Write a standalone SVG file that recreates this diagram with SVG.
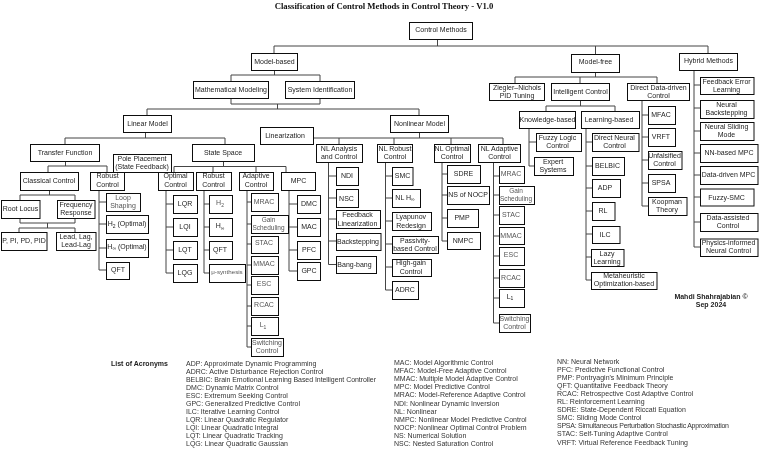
<svg xmlns="http://www.w3.org/2000/svg" width="768" height="457" viewBox="0 0 768 457">
<style>
text{font-family:"Liberation Sans",Arial,sans-serif;font-size:7px;fill:#222}
.n rect{fill:#fff;stroke:#111;stroke-width:1}
.n text{text-anchor:middle}
.s{font-size:5px}
.g text{fill:#555}
#connectors path{fill:none;stroke:#444;stroke-width:1}
.b{font-weight:bold}
.l text{fill:#333}
</style>
<defs><filter id="soft" x="0" y="0" width="100%" height="100%" filterUnits="objectBoundingBox"><feGaussianBlur stdDeviation="0.3"/></filter></defs>
<rect width="768" height="457" fill="#fff"/>
<g filter="url(#soft)">
<rect width="768" height="457" fill="#fff"/>
<text x="384" y="8.500" text-anchor="middle" style="font-family:'Liberation Serif',serif;font-size:8.700px;font-weight:bold;fill:#111">Classification of Control Methods in Control Theory - V1.0</text>
<g id="connectors">
<path d="M437.500 39V46M274 46H708M274 46V53M595.500 46V54M708 46V53"/>
<path d="M274.500 70V75M231 75H320M231 75V81M320 75V81M231 98V104H320V98M277.500 104V109M147 109H419M147 109V115M419 109V115"/>
<path d="M145.500 132V138M65 138H225M65 138V144M225 138V144M65.500 161V166M48 166H107M48 166V172M107 166V172M49.500 190V195M20 195H75M20 195V200M75 195V200M20 218V223H75V218M47.500 223V228M19 228H75M19 228V232M75 228V232"/>
<path d="M99 190V270M99 202H106M99 224H106M99 248H106M99 270H106"/>
<path d="M223.500 161V166.500M174 166.500H286M174 166.500V172M213 166.500V172M256 166.500V172M286 166.500V172"/>
<path d="M166 190V273M166 204H173M166 227H173M166 250H173M166 273H173M204 190V273M204 204H209M204 227H209M204 250H209M204 273H209"/>
<path d="M247 190V347M247 202H251M247 224H251M247 244H251M247 265H251M247 285H251M247 306H251M247 326H251M247 347H251M289 190V271M289 204H297M289 227H297M289 250H297M289 271H297"/>
<path d="M419.500 132V138M313 138H503M339 138V144M394 138V144M451 138V144M503 138V144"/>
<path d="M328.500 162V264.500H336M328 176H336M328 198H336M328 219H336M328 241H336"/>
<path d="M385.500 162V290H392M385 176H392M385 198H392M385 221H392M385 244H392M385 267H392"/>
<path d="M442 162V241H447M442 174H447M442 195H447M442 218H447"/>
<path d="M493.500 162V323H499M493 176H499M493 195H499M493 215H499M493 236H499M493 256H499M493 278H499M493 298H499"/>
<path d="M595.500 72V77M515 77H657M515 77V83M580 77V83M657 77V83M580.500 100V106M546 106H615M546 106V111M615 106V111"/>
<path d="M529 128V166H534M529 142H536M586 128V280H591M586 142H592M586 166H592M586 188H592M586 211H592M586 234H592M586 257H591"/>
<path d="M642 100V206H648M642 115H648M642 137H648M642 160H648M642 183H648"/>
<path d="M694 70V247H700M694 85H700M694 108H700M694 131H700M694 153H700M694 175H700M694 197H700M694 222H700"/>
</g>
<g id="n-control-methods" class="n"><rect x="409.500" y="22.500" width="63" height="17"/><text x="441" y="32">Control Methods</text></g>
<g id="n-model-based" class="n"><rect x="251.500" y="53.500" width="46" height="17"/><text x="274.500" y="63.500">Model-based</text></g>
<g id="n-model-free" class="n"><rect x="571.500" y="54.500" width="48" height="18"/><text x="595.500" y="64">Model-free</text></g>
<g id="n-hybrid" class="n"><rect x="679.500" y="53.500" width="58" height="17"/><text x="708.500" y="63">Hybrid Methods</text></g>
<g id="n-math" class="n"><rect x="193.500" y="81.500" width="75" height="17"/><text x="231" y="91.500">Mathematical Modeling</text></g>
<g id="n-sysid" class="n"><rect x="285.500" y="81.500" width="69" height="17"/><text x="320" y="91.500">System Identification</text></g>
<g id="n-ziegler" class="n"><rect x="489.500" y="83.500" width="55" height="17"/><text x="517" y="90">Ziegler–Nichols</text><text x="517" y="98">PID Tuning</text></g>
<g id="n-intelligent" class="n"><rect x="551.500" y="83.500" width="58" height="17"/><text x="580.500" y="93.500">Intelligent Control</text></g>
<g id="n-direct-data" class="n"><rect x="627.500" y="83.500" width="62" height="17"/><text x="658.500" y="89.500">Direct Data-driven</text><text x="658.500" y="97.500">Control</text></g>
<g id="n-linear" class="n"><rect x="123.500" y="115.500" width="48" height="17"/><text x="147.500" y="125.500">Linear Model</text></g>
<g id="n-nonlinear" class="n"><rect x="390.500" y="115.500" width="58" height="17"/><text x="419.500" y="125.500">Nonlinear Model</text></g>
<g id="n-linearization" class="n"><rect x="260.500" y="127.500" width="53" height="17"/><text x="285" y="137.500">Linearization</text></g>
<g id="n-knowledge" class="n"><rect x="519.500" y="111.500" width="56" height="17"/><text x="547.500" y="121.500">Knowledge-based</text></g>
<g id="n-learning" class="n"><rect x="581.500" y="111.500" width="58" height="17"/><text x="609" y="121.500">Learning-based</text></g>
<g id="n-transfer" class="n"><rect x="30.500" y="144.500" width="69" height="17"/><text x="65" y="155">Transfer Function</text></g>
<g id="n-state-space" class="n"><rect x="192.500" y="144.500" width="62" height="17"/><text x="223" y="155">State Space</text></g>
<g id="n-pole" class="n"><rect x="113.500" y="154.500" width="58" height="18"/><text x="142" y="161">Pole Placement</text><text x="142" y="169">(State Feedback)</text></g>
<g id="n-classical" class="n"><rect x="20.500" y="172.500" width="58" height="18"/><text x="49" y="183">Classical Control</text></g>
<g id="n-robust1" class="n"><rect x="90.500" y="172.500" width="34" height="18"/><text x="107.500" y="178">Robust</text><text x="107.500" y="187">Control</text></g>
<g id="n-optimal" class="n"><rect x="158.500" y="172.500" width="35" height="18"/><text x="175.500" y="178">Optimal</text><text x="175.500" y="187">Control</text></g>
<g id="n-robust2" class="n"><rect x="196.500" y="172.500" width="35" height="18"/><text x="213.500" y="178">Robust</text><text x="213.500" y="187">Control</text></g>
<g id="n-adaptive" class="n"><rect x="239.500" y="172.500" width="34" height="18"/><text x="256" y="178">Adaptive</text><text x="256" y="187">Control</text></g>
<g id="n-mpc" class="n"><rect x="281.500" y="172.500" width="34" height="18"/><text x="298.500" y="183">MPC</text></g>
<g id="n-root" class="n"><rect x="1.500" y="200.500" width="38.500" height="18"/><text x="20.500" y="211">Root Locus</text></g>
<g id="n-freq" class="n"><rect x="57.500" y="200.500" width="37.500" height="18"/><text x="76" y="207">Frequency</text><text x="76" y="215">Response</text></g>
<g id="n-ppi" class="n"><rect x="1.500" y="232.500" width="45.500" height="18"/><text x="24" y="243">P, PI, PD, PID</text></g>
<g id="n-lead" class="n"><rect x="56.500" y="232.500" width="39.500" height="18"/><text x="76" y="238.500">Lead, Lag,</text><text x="76" y="246.500">Lead-Lag</text></g>
<g id="n-loop" class="n g"><rect x="106.500" y="193.500" width="34" height="18"/><text x="123" y="200">Loop</text><text x="123" y="208">Shaping</text></g>
<g id="n-h2opt" class="n"><rect x="106.500" y="215.500" width="42" height="18"/><text x="127" y="226">H<tspan class="s" dy="1.500">2</tspan><tspan dy="-1.500"> (Optimal)</tspan></text></g>
<g id="n-hinfopt" class="n"><rect x="106.500" y="239.500" width="42" height="18"/><text x="127" y="248.500">H<tspan class="s" dy="1.500">∞</tspan><tspan dy="-1.500"> (Optimal)</tspan></text></g>
<g id="n-qft1" class="n"><rect x="106.500" y="262.500" width="23" height="17"/><text x="118" y="272">QFT</text></g>
<g id="n-lqr" class="n"><rect x="173.500" y="195.500" width="24" height="18"/><text x="185" y="206">LQR</text></g>
<g id="n-lqi" class="n"><rect x="173.500" y="218.500" width="24" height="18"/><text x="185" y="229">LQI</text></g>
<g id="n-lqt" class="n"><rect x="173.500" y="241.500" width="24" height="18"/><text x="185" y="252">LQT</text></g>
<g id="n-lqg" class="n"><rect x="173.500" y="264.500" width="24" height="18"/><text x="185" y="275">LQG</text></g>
<g id="n-h2" class="n g"><rect x="209.500" y="195.500" width="23" height="18"/><text x="220" y="205">H<tspan class="s" dy="1.500">2</tspan></text></g>
<g id="n-hinf" class="n"><rect x="209.500" y="218.500" width="23" height="18"/><text x="220" y="228">H<tspan class="s" dy="1.500">∞</tspan></text></g>
<g id="n-qft2" class="n"><rect x="209.500" y="241.500" width="23" height="18"/><text x="220" y="251.500">QFT</text></g>
<g id="n-mu" class="n g"><rect x="209.500" y="264.500" width="36" height="18"/><text x="227" y="274" style="font-size:6.200px">μ-synthesis</text></g>
<g id="n-mrac1" class="n g"><rect x="251.500" y="193.500" width="27" height="18"/><text x="264" y="204">MRAC</text></g>
<g id="n-gain1" class="n g"><rect x="251.500" y="215.500" width="37" height="18"/><text x="268.500" y="222" style="font-size:6.500px">Gain</text><text x="268.500" y="229.500" style="font-size:6.500px">Scheduling</text></g>
<g id="n-stac1" class="n g"><rect x="251.500" y="236.500" width="27" height="17"/><text x="264" y="245">STAC</text></g>
<g id="n-mmac1" class="n g"><rect x="251.500" y="256.500" width="27" height="18"/><text x="264" y="265.500">MMAC</text></g>
<g id="n-esc1" class="n g"><rect x="251.500" y="276.500" width="27" height="18"/><text x="264" y="286">ESC</text></g>
<g id="n-rcac1" class="n g"><rect x="251.500" y="297.500" width="27" height="18"/><text x="264" y="307">RCAC</text></g>
<g id="n-l1a" class="n g"><rect x="251.500" y="317.500" width="27" height="18"/><text x="263" y="327">L<tspan class="s" dy="1.500">1</tspan></text></g>
<g id="n-switch1" class="n g"><rect x="251.500" y="338.500" width="32" height="18"/><text x="267" y="345">Switching</text><text x="267" y="353">Control</text></g>
<g id="n-dmc" class="n"><rect x="297.500" y="195.500" width="23" height="18"/><text x="309" y="206">DMC</text></g>
<g id="n-mac" class="n"><rect x="297.500" y="218.500" width="23" height="18"/><text x="309" y="229">MAC</text></g>
<g id="n-pfc" class="n"><rect x="297.500" y="241.500" width="23" height="18"/><text x="309" y="252">PFC</text></g>
<g id="n-gpc" class="n"><rect x="297.500" y="262.500" width="23" height="18"/><text x="309" y="273">GPC</text></g>
<g id="n-nl-analysis" class="n"><rect x="316.500" y="144.500" width="46" height="18"/><text x="339" y="151">NL Analysis</text><text x="339" y="159">and Control</text></g>
<g id="n-nl-robust" class="n"><rect x="377.500" y="144.500" width="35" height="18"/><text x="395" y="151">NL Robust</text><text x="395" y="159">Control</text></g>
<g id="n-nl-optimal" class="n"><rect x="434.500" y="144.500" width="36" height="18"/><text x="452" y="151">NL Optimal</text><text x="452" y="159">Control</text></g>
<g id="n-nl-adaptive" class="n"><rect x="478.500" y="144.500" width="42" height="18"/><text x="499.500" y="151">NL Adaptive</text><text x="499.500" y="159">Control</text></g>
<g id="n-ndi" class="n"><rect x="336.500" y="167.500" width="22" height="18"/><text x="347" y="178">NDI</text></g>
<g id="n-nsc" class="n"><rect x="336.500" y="189.500" width="22" height="18"/><text x="346.500" y="200.500">NSC</text></g>
<g id="n-fblin" class="n"><rect x="336.500" y="210.500" width="44" height="18"/><text x="357.500" y="217">Feedback</text><text x="357.500" y="225.500">Linearization</text></g>
<g id="n-backstep" class="n"><rect x="336.500" y="233.500" width="44.500" height="17"/><text x="358" y="243.500">Backstepping</text></g>
<g id="n-bang" class="n"><rect x="336.500" y="256.500" width="40" height="17"/><text x="354.500" y="267">Bang-bang</text></g>
<g id="n-smc" class="n"><rect x="392.500" y="167.500" width="20.500" height="18"/><text x="402.500" y="178">SMC</text></g>
<g id="n-nlhinf" class="n"><rect x="392.500" y="189.500" width="28" height="18"/><text x="405" y="199.500">NL H<tspan class="s" dy="1.500">∞</tspan></text></g>
<g id="n-lyap" class="n"><rect x="392.500" y="212.500" width="39" height="18"/><text x="411" y="219">Lyapunov</text><text x="411" y="227.500">Redesign</text></g>
<g id="n-pass" class="n"><rect x="392.500" y="236.500" width="46" height="17"/><text x="415" y="242.500">Passivity-</text><text x="415" y="250.500">based Control</text></g>
<g id="n-high" class="n"><rect x="392.500" y="259.500" width="39" height="17"/><text x="411" y="264.500">High-gain</text><text x="411" y="273.500">Control</text></g>
<g id="n-adrc" class="n"><rect x="392.500" y="281.500" width="26" height="18"/><text x="405" y="292">ADRC</text></g>
<g id="n-sdre" class="n"><rect x="447.500" y="165.500" width="33" height="18"/><text x="463.500" y="176">SDRE</text></g>
<g id="n-nsnocp" class="n"><rect x="447.500" y="186.500" width="42" height="18"/><text x="468" y="197">NS of NOCP</text></g>
<g id="n-pmp" class="n"><rect x="447.500" y="209.500" width="31" height="18"/><text x="462" y="220">PMP</text></g>
<g id="n-nmpc" class="n"><rect x="447.500" y="232.500" width="33" height="17"/><text x="463" y="242.500">NMPC</text></g>
<g id="n-mrac2" class="n g"><rect x="499.500" y="166.500" width="25" height="17"/><text x="511" y="176">MRAC</text></g>
<g id="n-gain2" class="n g"><rect x="499.500" y="186.500" width="35" height="18"/><text x="516" y="193" style="font-size:6.500px">Gain</text><text x="516" y="201" style="font-size:6.500px">Scheduling</text></g>
<g id="n-stac2" class="n g"><rect x="499.500" y="206.500" width="25" height="18"/><text x="511" y="217">STAC</text></g>
<g id="n-mmac2" class="n g"><rect x="499.500" y="227.500" width="25" height="17"/><text x="511" y="237.500">MMAC</text></g>
<g id="n-esc2" class="n g"><rect x="499.500" y="247.500" width="25" height="18"/><text x="511" y="257">ESC</text></g>
<g id="n-rcac2" class="n g"><rect x="499.500" y="269.500" width="25" height="18"/><text x="511" y="279.500">RCAC</text></g>
<g id="n-l1b" class="n"><rect x="499.500" y="289.500" width="25" height="18"/><text x="510" y="298.500">L<tspan class="s" dy="1.500">1</tspan></text></g>
<g id="n-switch2" class="n g"><rect x="499.500" y="314.500" width="31" height="18"/><text x="514.500" y="321">Switching</text><text x="514.500" y="329">Control</text></g>
<g id="n-fuzzy" class="n"><rect x="536.500" y="133.500" width="45" height="18"/><text x="557.500" y="139.500">Fuzzy Logic</text><text x="557.500" y="147.500">Control</text></g>
<g id="n-expert" class="n"><rect x="534.500" y="157.500" width="39" height="18"/><text x="553" y="163.500">Expert</text><text x="553" y="171.500">Systems</text></g>
<g id="n-direct-neural" class="n"><rect x="592.500" y="133.500" width="46.500" height="18"/><text x="614.500" y="139.500">Direct Neural</text><text x="614.500" y="147.500">Control</text></g>
<g id="n-belbic" class="n"><rect x="592.500" y="157.500" width="32" height="18"/><text x="607.500" y="168">BELBIC</text></g>
<g id="n-adp" class="n"><rect x="592.500" y="179.500" width="28" height="18"/><text x="605" y="190">ADP</text></g>
<g id="n-rl" class="n"><rect x="592.500" y="202.500" width="22.500" height="18"/><text x="603" y="213">RL</text></g>
<g id="n-ilc" class="n"><rect x="592.500" y="226.500" width="27.500" height="17"/><text x="605" y="236.500">ILC</text></g>
<g id="n-lazy" class="n"><rect x="591.500" y="249.500" width="32.500" height="17"/><text x="607" y="255.500">Lazy</text><text x="607" y="263.500">Learning</text></g>
<g id="n-meta" class="n"><rect x="591.500" y="272.500" width="65.500" height="17"/><text x="624" y="277.500">Metaheuristic</text><text x="624" y="286">Optimization-based</text></g>
<g id="n-mfac" class="n"><rect x="648.500" y="106.500" width="27" height="18"/><text x="661" y="116.500">MFAC</text></g>
<g id="n-vrft" class="n"><rect x="648.500" y="128.500" width="27" height="18"/><text x="661" y="138.500">VRFT</text></g>
<g id="n-unfals" class="n"><rect x="648.500" y="151.500" width="33.500" height="18"/><text x="664.500" y="157.500">Unfalsified</text><text x="664.500" y="166">Control</text></g>
<g id="n-spsa" class="n"><rect x="648.500" y="174.500" width="27" height="18"/><text x="661" y="184.500">SPSA</text></g>
<g id="n-koop" class="n"><rect x="648.500" y="197.500" width="38.500" height="18"/><text x="667" y="204">Koopman</text><text x="667" y="212">Theory</text></g>
<g id="n-fel" class="n"><rect x="700.500" y="77.500" width="53.500" height="17"/><text x="726.500" y="83.500">Feedback Error</text><text x="726.500" y="91.500">Learning</text></g>
<g id="n-nb" class="n"><rect x="700.500" y="100.500" width="53.500" height="18"/><text x="726.500" y="106.500">Neural</text><text x="726.500" y="114.500">Backstepping</text></g>
<g id="n-nsm" class="n"><rect x="700.500" y="122.500" width="53.500" height="18"/><text x="726.500" y="128.500">Neural Sliding</text><text x="726.500" y="136.500">Mode</text></g>
<g id="n-nnmpc" class="n"><rect x="700.500" y="144.500" width="57.500" height="18"/><text x="729" y="155">NN-based MPC</text></g>
<g id="n-ddmpc" class="n"><rect x="700.500" y="166.500" width="57.500" height="18"/><text x="728.500" y="177">Data-driven MPC</text></g>
<g id="n-fsmc" class="n"><rect x="700.500" y="189" width="53.500" height="17"/><text x="726.500" y="199.500">Fuzzy-SMC</text></g>
<g id="n-dac" class="n"><rect x="700.500" y="213.500" width="57.500" height="18"/><text x="728" y="219.500">Data-assisted</text><text x="728" y="227.500">Control</text></g>
<g id="n-pinn" class="n"><rect x="700.500" y="239" width="57.500" height="17.500"/><text x="728.500" y="244.500">Physics-informed</text><text x="728.500" y="252.500">Neural Control</text></g>
<text x="711" y="298.500" text-anchor="middle" class="b">Mahdi Shahrajabian ©</text>
<text x="711" y="306.500" text-anchor="middle" class="b">Sep 2024</text>
<text x="111" y="366" class="b">List of Acronyms</text>
<g class="l">
<text x="186" y="365.500">ADP: Approximate Dynamic Programming</text>
<text x="186" y="373.500">ADRC: Active Disturbance Rejection Control</text>
<text x="186" y="381.500" textLength="190">BELBIC: Brain Emotional Learning Based Intelligent Controller</text>
<text x="186" y="389.700">DMC: Dynamic Matrix Control</text>
<text x="186" y="397.800">ESC: Extremum Seeking Control</text>
<text x="186" y="405.900">GPC: Generalized Predictive Control</text>
<text x="186" y="414">ILC: Iterative Learning Control</text>
<text x="186" y="422">LQR: Linear Quadratic Regulator</text>
<text x="186" y="430">LQI: Linear Quadratic Integral</text>
<text x="186" y="438.200">LQT: Linear Quadratic Tracking</text>
<text x="186" y="446.300">LQG: Linear Quadratic Gaussian</text>
<text x="394" y="365">MAC: Model Algorithmic Control</text>
<text x="394" y="373.100">MFAC: Model-Free Adaptive Control</text>
<text x="394" y="381.200">MMAC: Multiple Model Adaptive Control</text>
<text x="394" y="389.300">MPC: Model Predictive Control</text>
<text x="394" y="397.400">MRAC: Model-Reference Adaptive Control</text>
<text x="394" y="405.500">NDI: Nonlinear Dynamic Inversion</text>
<text x="394" y="413.600">NL: Nonlinear</text>
<text x="394" y="421.700">NMPC: Nonlinear Model Predictive Control</text>
<text x="394" y="429.800">NOCP: Nonlinear Optimal Control Problem</text>
<text x="394" y="437.900">NS: Numerical Solution</text>
<text x="394" y="446">NSC: Nested Saturation Control</text>
<text x="557" y="363.500">NN: Neural Network</text>
<text x="557" y="371.600">PFC: Predictive Functional Control</text>
<text x="557" y="379.700">PMP: Pontryagin's Minimum Principle</text>
<text x="557" y="387.800">QFT: Quantitative Feedback Theory</text>
<text x="557" y="395.900">RCAC: Retrospective Cost Adaptive Control</text>
<text x="557" y="404">RL: Reinforcement Learning</text>
<text x="557" y="412.100">SDRE: State-Dependent Riccati Equation</text>
<text x="557" y="420.200">SMC: Sliding Mode Control</text>
<text x="557" y="428.300" textLength="172">SPSA: Simultaneous Perturbation Stochastic Approximation</text>
<text x="557" y="436.400">STAC: Self-Tuning Adaptive Control</text>
<text x="557" y="444.500">VRFT: Virtual Reference Feedback Tuning</text>
</g>
</g>
</svg>
